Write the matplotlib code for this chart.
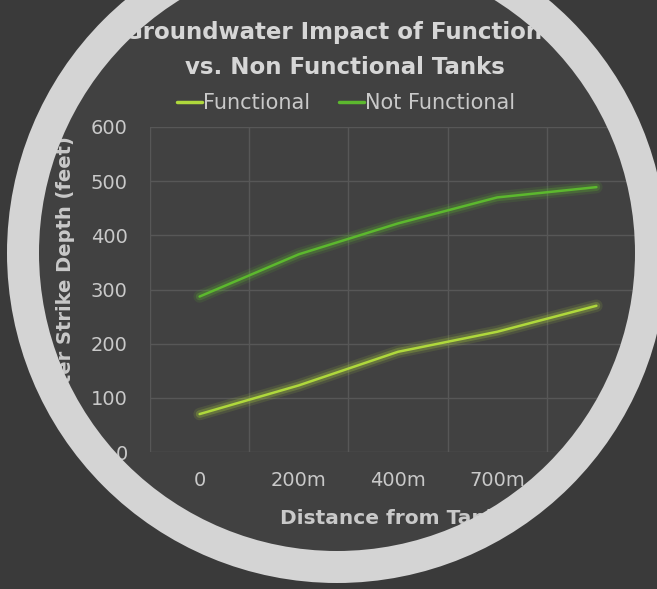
import numpy as np
import matplotlib
matplotlib.use("Agg")
import matplotlib.pyplot as plt
import matplotlib.patheffects as pe
from matplotlib.path import Path
from matplotlib.patches import PathPatch, Circle

# Data
distances = ["0", "200m", "400m", "700m", "1000m"]
functional = [70, 123, 185, 222, 270]
not_functional = [287, 365, 422, 470, 489]
series_names = ["Functional", "Not Functional"]
y_ticks = [0, 100, 200, 300, 400, 500, 600]

# Style
BG_IN = "#414141"
BG_OUT = "#3a3a3a"
RING = "#d4d4d4"
TEXT = "#c9c9c9"
TITLE = "#d6d6d6"
GRID = "#575757"
C_FUNC = "#afd83c"
C_NOT = "#5cb82e"

W, H, DPI = 6.57, 5.89, 100
fig = plt.figure(figsize=(W, H), dpi=DPI, facecolor=BG_IN)
plt.rcParams["font.family"] = ["DejaVu Sans"]

ax = fig.add_axes([150 / 657, 1 - 452 / 589, 496 / 657, 325 / 589])
ax.set_facecolor(BG_IN)
x = np.arange(len(distances))


def glow(color):
    return [pe.Stroke(linewidth=9, foreground=color, alpha=0.12),
            pe.Stroke(linewidth=5.5, foreground=color, alpha=0.25),
            pe.Normal()]


ax.plot(x, functional, color=C_FUNC, lw=1.8, label=series_names[0],
        path_effects=glow(C_FUNC), solid_capstyle="round", zorder=3)
ax.plot(x, not_functional, color=C_NOT, lw=1.8, label=series_names[1],
        path_effects=glow(C_NOT), solid_capstyle="round", zorder=3)

ax.set_xlim(-0.5, len(distances) - 0.5)
ax.set_ylim(0, 600)
ax.set_xticks(x)
ax.set_xticklabels(distances)
ax.set_xticks(np.arange(-0.5, len(distances)), minor=True)
ax.set_yticks(y_ticks)
ax.grid(True, which="minor", axis="x", color=GRID, lw=1)
ax.grid(True, which="major", axis="y", color=GRID, lw=1)
ax.tick_params(axis="both", which="both", length=0, colors=TEXT, labelsize=14)
ax.tick_params(axis="y", pad=16)
ax.tick_params(axis="x", pad=14)
for s in ax.spines.values():
    s.set_visible(False)
ax.set_axisbelow(True)

# Titles
fig.text(345 / 657, 1 - 32 / 589, "Groundwater Impact of Functional",
         ha="center", va="center", fontsize=16.5, fontweight="bold", color=TITLE)
fig.text(345 / 657, 1 - 67 / 589, "vs. Non Functional Tanks",
         ha="center", va="center", fontsize=16.5, fontweight="bold", color=TITLE)
fig.text(66 / 657, 1 - 277 / 589, "Water Strike Depth (feet)", rotation=90,
         ha="center", va="center", fontsize=14, fontweight="bold", color=TEXT)
fig.text(396 / 657, 1 - 519 / 589, "Distance from Tanks",
         ha="center", va="center", fontsize=14.5, fontweight="bold", color=TEXT)

leg = fig.legend(loc="center", bbox_to_anchor=(346 / 657, 1 - 103 / 589),
                 ncol=2, frameon=False, fontsize=15, handlelength=1.2,
                 handletextpad=0.05, columnspacing=1.4, labelcolor=TEXT)
for line in leg.get_lines():
    line.set_linewidth(2.5)
    line.set_path_effects([])

# Circular frame: everything outside the ring is covered
cx, cy = 3.37, (589 - 253) / 100
r = 3.14
t = np.linspace(0, -2 * np.pi, 721)
circ = np.column_stack([cx + r * np.cos(t), cy + r * np.sin(t)])
rect = np.array([[0, 0], [W, 0], [W, H], [0, H], [0, 0]])
verts = np.vstack([rect, circ])
codes = ([Path.MOVETO] + [Path.LINETO] * 3 + [Path.CLOSEPOLY]
         + [Path.MOVETO] + [Path.LINETO] * (len(circ) - 2) + [Path.CLOSEPOLY])
mask = PathPatch(Path(verts, codes), facecolor=BG_OUT, edgecolor="none",
                 transform=fig.dpi_scale_trans, zorder=10)
fig.add_artist(mask)
ring = Circle((cx, cy), r, fill=False, edgecolor=RING, linewidth=0.32 * 72,
              transform=fig.dpi_scale_trans, zorder=11)
fig.add_artist(ring)

fig.savefig("out.png", dpi=DPI, facecolor=BG_IN)
